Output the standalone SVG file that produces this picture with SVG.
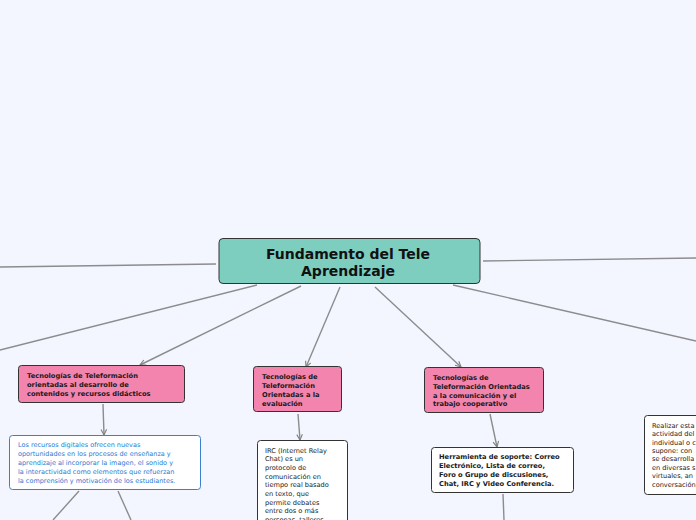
<svg xmlns="http://www.w3.org/2000/svg" width="696" height="520" viewBox="0 0 696 520">
<defs>
<marker id="arr" viewBox="0 0 10 10" refX="9" refY="5" markerWidth="7" markerHeight="7" orient="auto" markerUnits="userSpaceOnUse">
<path d="M1,1 L9,5 L1,9" fill="none" stroke="#808080" stroke-width="1.6"/>
</marker>
</defs>
<style>
.ln{stroke:#8c8c8e;stroke-width:1.4;fill:none}
.pink{fill:#f384ad;stroke:#333;stroke-width:1}
.white{fill:#fff;stroke:#333;stroke-width:1}
.tb{font-family:"DejaVu Sans",Verdana,sans-serif;font-weight:bold;font-size:6.7px;fill:#1a1a1a}
.tr{font-family:"DejaVu Sans",Verdana,sans-serif;font-size:6.6px;fill:#222}
.tblue{font-family:"DejaVu Sans",Verdana,sans-serif;font-size:6.5px;fill:#2a7ad2}
.title{font-family:"DejaVu Sans",Verdana,sans-serif;font-weight:bold;font-size:14px;fill:#111;text-anchor:middle}
</style>
<rect width="696" height="520" fill="#f3f6fe"/>
<g id="connectors">
<line class="ln" x1="216" y1="264" x2="0" y2="267"/>
<line class="ln" x1="483" y1="261" x2="696" y2="258"/>
<line class="ln" x1="257" y1="285" x2="0" y2="350"/>
<line class="ln" x1="453" y1="285" x2="696" y2="341"/>
<line class="ln" x1="301" y1="286" x2="140" y2="365" marker-end="url(#arr)"/>
<line class="ln" x1="340" y1="287" x2="306" y2="367" marker-end="url(#arr)"/>
<line class="ln" x1="375" y1="287" x2="461" y2="367" marker-end="url(#arr)"/>
<line class="ln" x1="103" y1="404" x2="104" y2="435" marker-end="url(#arr)"/>
<line class="ln" x1="298" y1="414" x2="300" y2="440" marker-end="url(#arr)"/>
<line class="ln" x1="490" y1="414" x2="497" y2="447" marker-end="url(#arr)"/>
<line class="ln" x1="79" y1="491" x2="53" y2="520"/>
<line class="ln" x1="118" y1="491" x2="131" y2="520"/>
<line class="ln" x1="503" y1="494" x2="504" y2="520"/>
</g>
<g id="central">
<rect x="219" y="238.5" width="261" height="45" rx="4" fill="#7ecec0" stroke="#333" stroke-width="1"/>
<text class="title" x="348" y="259">Fundamento del Tele</text>
<text class="title" x="348" y="276">Aprendizaje</text>
</g>
<g id="node1">
<rect class="pink" x="18.5" y="365.5" width="166" height="37" rx="3"/>
<text class="tb" x="27" y="378">Tecnologías de Teleformación</text>
<text class="tb" x="27" y="387">orientadas al desarrollo de</text>
<text class="tb" x="27" y="396">contenidos y recursos didácticos</text>
</g>
<g id="node1a">
<rect x="9.5" y="435.5" width="191" height="54" rx="3" fill="#fff" stroke="#3a7fd0" stroke-width="1"/>
<text class="tblue" x="18" y="447">Los recursos digitales ofrecen nuevas</text>
<text class="tblue" x="18" y="456">oportunidades en los procesos de enseñanza y</text>
<text class="tblue" x="18" y="465">aprendizaje al incorporar la imagen, el sonido y</text>
<text class="tblue" x="18" y="474">la interactividad como elementos que refuerzan</text>
<text class="tblue" x="18" y="483">la comprensión y motivación de los estudiantes.</text>
</g>
<g id="node2">
<rect class="pink" x="253.5" y="366.5" width="88" height="45" rx="3"/>
<text class="tb" x="262" y="379">Tecnologías de</text>
<text class="tb" x="262" y="388">Teleformación</text>
<text class="tb" x="262" y="397">Orientadas a la</text>
<text class="tb" x="262" y="406">evaluación</text>
</g>
<g id="node2a">
<rect class="white" x="257.5" y="440.5" width="90" height="90" rx="3"/>
<text class="tr" x="265" y="452.5">IRC (Internet Relay</text>
<text class="tr" x="265" y="461.2">Chat) es un</text>
<text class="tr" x="265" y="469.9">protocolo de</text>
<text class="tr" x="265" y="478.6">comunicación en</text>
<text class="tr" x="265" y="487.3">tiempo real basado</text>
<text class="tr" x="265" y="496">en texto, que</text>
<text class="tr" x="265" y="504.7">permite debates</text>
<text class="tr" x="265" y="513.4">entre dos o más</text>
<text class="tr" x="265" y="522">personas, talleres</text>
</g>
<g id="node3">
<rect class="pink" x="424.5" y="367.5" width="119" height="45" rx="3"/>
<text class="tb" x="433" y="380">Tecnologías de</text>
<text class="tb" x="433" y="389">Teleformación Orientadas</text>
<text class="tb" x="433" y="398">a la comunicación y el</text>
<text class="tb" x="433" y="406">trabajo cooperativo</text>
</g>
<g id="node3a">
<rect class="white" x="431.5" y="447.5" width="142" height="45" rx="3"/>
<text class="tb" x="439" y="459">Herramienta de soporte: Correo</text>
<text class="tb" x="439" y="468">Electrónico, Lista de correo,</text>
<text class="tb" x="439" y="477">Foro o Grupo de discusiones,</text>
<text class="tb" x="439" y="486">Chat, IRC y Video Conferencia.</text>
</g>
<g id="node4">
<rect class="white" x="644.5" y="415.5" width="70" height="79" rx="3"/>
<text class="tr" x="652" y="428">Realizar esta</text>
<text class="tr" x="652" y="436">actividad del</text>
<text class="tr" x="652" y="445">individual o c</text>
<text class="tr" x="652" y="453">supone: con</text>
<text class="tr" x="652" y="461">se desarrolla</text>
<text class="tr" x="652" y="470">en diversas s</text>
<text class="tr" x="652" y="478">virtuales, an</text>
<text class="tr" x="652" y="487">conversación</text>
</g>
</svg>
